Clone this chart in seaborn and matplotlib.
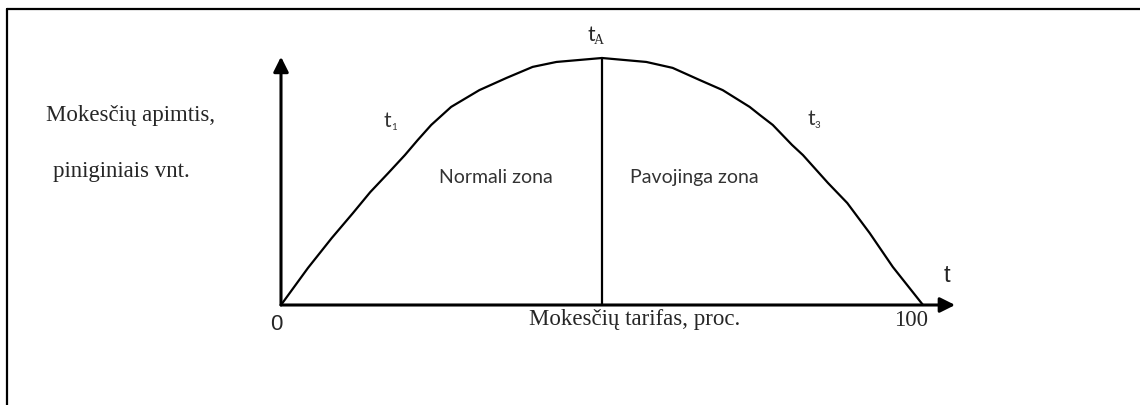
import seaborn as sns
import pandas as pd
import numpy as np
import matplotlib.pyplot as plt

# Laffer curve: tax rate (%) vs tax revenue (relative units, peak = 100)
tax_rate = [0, 4.2, 7.9, 11.2, 13.9, 16.7, 19.3, 21.3, 23.4, 26.5, 30.9, 35.1, 39.2, 42.9, 50,
            56.9, 61.0, 65.2, 68.8, 73.0, 74.6, 76.6, 79.6, 81.3, 85.2, 88.2, 91.7, 95.3, 100]
revenue = [0, 15.0, 27.1, 37.2, 45.7, 53.4, 60.7, 66.8, 72.9, 80.2, 87.0, 91.9, 96.4, 98.4, 100,
           98.4, 96.0, 91.1, 87.0, 80.2, 76.9, 72.9, 64.8, 60.7, 49.4, 41.3, 29.1, 15.4, 0]
peak_rate = 50
peak_revenue = 100
df = pd.DataFrame({'rate': tax_rate, 'revenue': revenue})

sns.set_style('white')
W, H = 1140, 405
fig = plt.figure(figsize=(W / 100, H / 100), dpi=100)
ax = fig.add_axes([0, 0, 1, 1])

# pixel -> data mapping (origin at px (281,305), x=100 at px 923, y=100 at px 58)
x0, x100, y0, y100 = 281, 923, 305, 58
sx = (x100 - x0) / 100
sy = (y0 - y100) / 100
ax.set_xlim(-x0 / sx, (W - x0) / sx)
ax.set_ylim(-(H - y0) / sy, y0 / sy)
ax.axis('off')

sns.lineplot(data=df, x='rate', y='revenue', ax=ax, color='black', lw=1.6)
ax.plot([peak_rate, peak_rate], [0, peak_revenue], color='black', lw=1.6)

arrow = dict(arrowstyle='-|>,head_length=0.9,head_width=0.45', lw=2.2,
             color='black', shrinkA=0, shrinkB=0)
ax.annotate('', xy=(0, 100.5), xytext=(0, 0), arrowprops=arrow)
ax.annotate('', xy=(105, 0), xytext=(0, 0), arrowprops=arrow)

# frame lines (left and top only visible)
fig.add_artist(plt.Line2D([7 / W, 7 / W], [0, 1 - 9 / H], color='black', lw=1.6))
fig.add_artist(plt.Line2D([7 / W, 1], [1 - 9 / H, 1 - 9 / H], color='black', lw=1.6))


def px(x, y):
    return x / W, 1 - y / H


serif = 'Liberation Serif'
sans = 'Liberation Sans'
hum = 'Lato'
fig.text(*px(131, 116), 'Mokesčių apimtis,', family=serif, fontsize=16.5, ha='center', va='center')
fig.text(*px(121, 171), 'piniginiais vnt.', family=serif, fontsize=16.5, ha='center', va='center')
fig.text(*px(635, 320), 'Mokesčių tarifas, proc.', family=serif, fontsize=16.5, ha='center', va='center')
fig.text(*px(911, 321), '100', family=serif, fontsize=16.5, ha='center', va='center')
fig.text(*px(276, 325), '0', family=sans, fontsize=16, ha='center', va='center')
fig.text(*px(947, 276), 't', family=sans, fontsize=17, ha='center', va='center')
fig.text(*px(496, 177), 'Normali zona', family=hum, fontsize=14, ha='center', va='center', color='#333333')
fig.text(*px(694, 177), 'Pavojinga zona', family=hum, fontsize=14, ha='center', va='center', color='#333333')

# t labels with subscripts
fig.text(*px(387, 121), 't', family=hum, fontsize=15, ha='center', va='center', color='#333333')
fig.text(*px(394, 128), '1', family=hum, fontsize=7, ha='center', va='center', color='#333333')
fig.text(*px(811, 119), 't', family=hum, fontsize=15, ha='center', va='center', color='#333333')
fig.text(*px(817, 126), '3', family=hum, fontsize=7, ha='center', va='center', color='#333333')
fig.text(*px(591, 35), 't', family=hum, fontsize=15, ha='center', va='center')
fig.text(*px(599, 41), 'A', family=serif, fontsize=10, ha='center', va='center')

fig.savefig('out.png', dpi=100)
